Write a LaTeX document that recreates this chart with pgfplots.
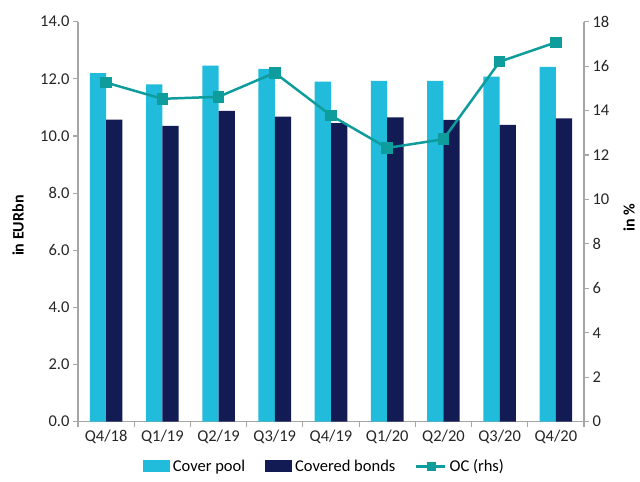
\documentclass[border=0pt]{standalone}
\usepackage{fontspec}
\setmainfont{Carlito}
\usepackage{pgfplots}
\pgfplotsset{compat=1.18}
\definecolor{cpool}{HTML}{21BBDB}
\definecolor{cbonds}{HTML}{131B55}
\definecolor{occol}{HTML}{0E9C9C}
\definecolor{axgray}{HTML}{A6A6A6}
\pgfplotsset{
  common/.style={
    scale only axis, width=506bp, height=400bp,
    xmin=-0.5, xmax=8.5,
    at={(78bp,60.3bp)}, anchor=south west,
    axis line style={axgray, line width=1.3pt},
    tick style={axgray, line width=1.1pt},
    tick align=outside, major tick length=5bp,
    ticklabel style={font=\fontsize{16.5bp}{18bp}\selectfont, text=black!85},
    /pgf/number format/assume math mode=true,
    label style={font=\bfseries\fontsize{16bp}{18bp}\selectfont},
  },
  oclegend/.style={legend image code/.code={
    \draw[occol, line width=2.2pt] (0bp,0bp) -- (29bp,0bp);
    \fill[occol] (10.5bp,-4bp) rectangle (18.5bp,4bp);}},
}
\begin{document}
\begin{tikzpicture}[x=1bp,y=1bp]
\useasboundingbox (0,0) rectangle (640,482);
\begin{axis}[common,
  ymin=0, ymax=14,
  axis y line*=left, axis x line*=bottom,
  ytick={0,2,...,14},
  yticklabel={\pgfmathprintnumber[fixed,fixed zerofill,precision=1]{\tick}},
  xtick={-0.5,0.5,...,8.5},
  x tick label as interval,
  xticklabels={Q4/18,Q1/19,Q2/19,Q3/19,Q4/19,Q1/20,Q2/20,Q3/20,Q4/20},
  ylabel={in EURbn},
  ylabel style={at={(axis description cs:-0.1186,0.49)}, anchor=center},
  ybar=0pt, bar width=16.3bp,
  legend style={at={(0.487,-0.112)}, anchor=center, draw=none, fill=none,
    legend columns=3, font=\fontsize{16.5bp}{18bp}\selectfont,
    /tikz/every odd column/.append style={column sep=1bp},
    /tikz/every even column/.append style={column sep=18bp},
    inner sep=0pt},
  legend cell align=left,
]
\addplot[fill=cpool, draw=none,
  legend image code/.code={\fill[cpool] (0bp,-6bp) rectangle (27bp,6bp);}]
  coordinates {(0,12.2) (1,11.81) (2,12.46) (3,12.35) (4,11.9) (5,11.93) (6,11.93) (7,12.08) (8,12.42)};
\addlegendentry{Cover pool}
\addplot[fill=cbonds, draw=none,
  legend image code/.code={\fill[cbonds] (0bp,-6bp) rectangle (27bp,6bp);}]
  coordinates {(0,10.57) (1,10.35) (2,10.88) (3,10.68) (4,10.45) (5,10.65) (6,10.56) (7,10.39) (8,10.62)};
\addlegendentry{Covered bonds}
\addlegendimage{oclegend}
\addlegendentry{OC (rhs)}
\end{axis}
\begin{axis}[common,
  ymin=0, ymax=18,
  axis y line*=right, axis x line=none,
  ytick={0,2,...,18},
  ylabel={in \%},
  ylabel style={at={(axis description cs:1.089,0.51)}, anchor=center},
]
\addplot[occol, line width=2.5pt, mark=square*, mark size=4.5bp]
  coordinates {(0,15.26) (1,14.53) (2,14.62) (3,15.7) (4,13.78) (5,12.32) (6,12.71) (7,16.2) (8,17.07)};
\end{axis}
\end{tikzpicture}
\end{document}
